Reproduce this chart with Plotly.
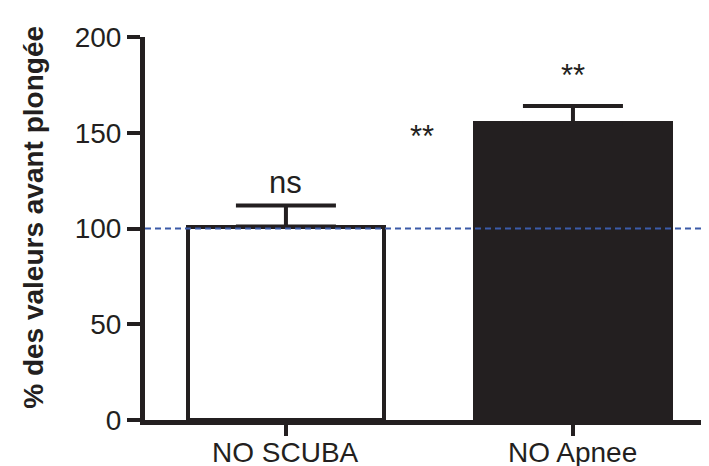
import plotly.graph_objects as go

categories = ["NO SCUBA", "NO Apnee"]
values = [101, 155]
errors_up = [11, 9]
fill_colors = ["#ffffff", "#231f20"]
y_ticks = [0, 50, 100, 150, 200]
reference_level = 100
annotations_text = ["ns", "**"]
annotation_y = [124, 180]
mid_label = "**"
mid_label_y = 148

INK = "#231f20"
FONT = "Liberation Sans, Arial, Helvetica"

fig = go.Figure()
fig.add_trace(go.Bar(
    x=[0, 1], y=values, width=0.683,
    marker=dict(color=fill_colors, line=dict(color=INK, width=4)),
    error_y=dict(type="data", array=errors_up, arrayminus=[0, 0], symmetric=False,
                 color=INK, thickness=4, width=50),
    showlegend=False,
))

fig.add_shape(type="line", xref="paper", x0=0, x1=1, yref="y", y0=reference_level, y1=reference_level,
              line=dict(color="#3b5ba8", width=2, dash="6px,4px"), layer="above")

for i, (t, yv) in enumerate(zip(annotations_text, annotation_y)):
    fig.add_annotation(x=i, y=yv, text=t, showarrow=False,
                       font=dict(size=31, color=INK, family=FONT))
fig.add_annotation(x=0.474, y=mid_label_y, text=mid_label, showarrow=False,
                   font=dict(size=31, color=INK, family=FONT))

# category labels below the axis
for i, c in enumerate(categories):
    fig.add_annotation(x=i, xref="x", yref="paper", y=-0.0836, yanchor="middle", xanchor="center",
                       text=c, showarrow=False, font=dict(size=28, color=INK, family=FONT))

fig.add_annotation(xref="paper", yref="paper", x=-0.199, y=0.53, xanchor="center", yanchor="middle",
                   text="<b>% des valeurs avant plongée</b>", textangle=-90, showarrow=False,
                   font=dict(size=28, color=INK, family=FONT))

fig.update_layout(
    width=701, height=458,
    margin=dict(l=137, r=0, t=29, b=46, autoexpand=False),
    paper_bgcolor="white", plot_bgcolor="white",
    font=dict(family=FONT, color=INK, size=28),
    bargap=0,
    xaxis=dict(range=[-0.491, 1.474], tickvals=[0, 1], showticklabels=False,
               showgrid=False, zeroline=False, showline=True, linecolor=INK, linewidth=5,
               ticks="outside", ticklen=11, tickwidth=4, tickcolor=INK, automargin=False),
    yaxis=dict(range=[0, 200], tickvals=y_ticks, showgrid=False, zeroline=False,
               showline=True, linecolor=INK, linewidth=5,
               ticks="outside", ticklen=13, tickwidth=4, tickcolor=INK,
               tickfont=dict(size=28), automargin=False),
)

fig.write_html("out.html")
